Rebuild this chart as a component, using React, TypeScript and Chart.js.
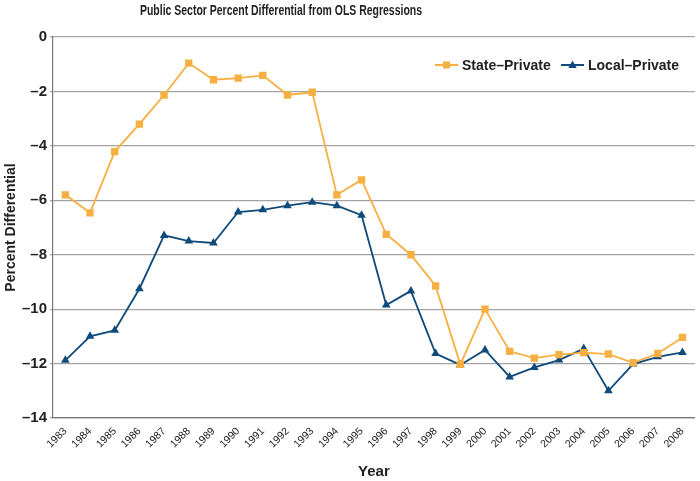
import React, { useEffect, useRef } from "react";
import { Chart, registerables } from "chart.js";

Chart.register(...registerables);

const TITLE = "Public Sector Percent Differential from OLS Regressions";
const years = [
  "1983", "1984", "1985", "1986", "1987", "1988", "1989", "1990", "1991", "1992", "1993", "1994", "1995",
  "1996", "1997", "1998", "1999", "2000", "2001", "2002", "2003", "2004", "2005", "2006", "2007", "2008",
];
const statePrivate = [
  -5.8, -6.46, -4.21, -3.2, -2.13, -0.96, -1.57, -1.51, -1.41, -2.13, -2.03, -5.8, -5.25,
  -7.25, -8.0, -9.15, -12.03, -10.0, -11.55, -11.8, -11.67, -11.6, -11.65, -11.97, -11.63, -11.04,
];
const localPrivate = [
  -11.88, -11.0, -10.78, -9.25, -7.29, -7.5, -7.57, -6.43, -6.35, -6.2, -6.07, -6.2, -6.55,
  -9.85, -9.33, -11.63, -12.05, -11.5, -12.49, -12.14, -11.87, -11.45, -13.0, -12.02, -11.75, -11.59,
];
const yTicks = [0, -2, -4, -6, -8, -10, -12, -14];

const ORANGE = "#F6AF41";
const BLUE = "#0F4A7B";
const NARROW = "'Liberation Sans Narrow', 'Liberation Sans', Arial, sans-serif";
const SANS = "'Liberation Sans', Arial, sans-serif";

const overlayPlugin = {
  id: "overlay",
  afterDraw(chart: any) {
    const ctx = chart.ctx;
    ctx.save();
    // title (horizontally condensed to match the reference's narrow face)
    ctx.fillStyle = "#222";
    ctx.font = `bold 14px ${NARROW}`;
    ctx.textAlign = "center";
    ctx.textBaseline = "middle";
    const w = ctx.measureText(TITLE).width;
    const sx = Math.min(1, 282 / w);
    ctx.save();
    ctx.translate(281, 11);
    ctx.scale(sx, 1);
    ctx.fillText(TITLE, 0, 0);
    ctx.restore();
    // legend
    const items = chart.data.datasets.map((d: any) => ({
      label: d.label,
      color: d.borderColor,
      style: d.pointStyle,
    }));
    const xs = [435, 561];
    const y = 65;
    ctx.font = `bold 14px ${SANS}`;
    ctx.textAlign = "left";
    items.forEach((it: any, i: number) => {
      const x0 = xs[i];
      ctx.strokeStyle = it.color;
      ctx.lineWidth = 2;
      ctx.beginPath();
      ctx.moveTo(x0, y);
      ctx.lineTo(x0 + 23, y);
      ctx.stroke();
      ctx.fillStyle = it.color;
      const cx = x0 + 11.5;
      if (it.style === "rect") {
        ctx.fillRect(cx - 3.5, y - 3.5, 7, 7);
      } else {
        ctx.beginPath();
        ctx.moveTo(cx, y - 4.5);
        ctx.lineTo(cx + 4.2, y + 3);
        ctx.lineTo(cx - 4.2, y + 3);
        ctx.closePath();
        ctx.fill();
      }
      ctx.fillStyle = "#222";
      ctx.fillText(it.label, x0 + 27, y + 1);
    });
    ctx.restore();
  },
};

export default function App() {
  const ref = useRef<HTMLCanvasElement | null>(null);
  useEffect(() => {
    document.body.style.margin = "0";
    const canvas = ref.current;
    if (!canvas) return;
    const chart = new Chart(canvas, {
      type: "line",
      data: {
        labels: years,
        datasets: [
          {
            label: "State\u2013Private",
            data: statePrivate,
            borderColor: ORANGE,
            backgroundColor: ORANGE,
            borderWidth: 1.8,
            pointStyle: "rect",
            pointRadius: 5.2,
            pointBorderWidth: 0,
            tension: 0,
          },
          {
            label: "Local\u2013Private",
            data: localPrivate,
            borderColor: BLUE,
            backgroundColor: BLUE,
            borderWidth: 1.8,
            pointStyle: "triangle",
            pointRadius: 5,
            pointBorderWidth: 0,
            tension: 0,
          },
        ],
      },
      options: {
        animation: false,
        responsive: false,
        layout: { padding: { top: 37, right: 2, left: 0, bottom: 0 } },
        plugins: {
          legend: { display: false },
          tooltip: { enabled: false },
          title: { display: false },
        },
        scales: {
          x: {
            offset: true,
            grid: { display: false, drawTicks: false },
            border: { display: true, color: "#777", width: 1.2 },
            ticks: {
              color: "#222",
              font: { family: NARROW, size: 10.5 },
              minRotation: 45,
              maxRotation: 45,
              padding: 7,
              autoSkip: false,
            },
            title: {
              display: true,
              text: "Year",
              color: "#222",
              font: { family: SANS, size: 15, weight: "bold" },
              padding: { top: 4, bottom: 0 },
            },
            afterFit(scale: any) {
              scale.height = 63;
            },
          },
          y: {
            min: -14,
            max: 0,
            afterBuildTicks(scale: any) {
              scale.ticks = yTicks.map((v) => ({ value: v }));
            },
            grid: { color: "#a4a4a4", lineWidth: 1.2, drawTicks: true, tickLength: 3 },
            border: { display: true, color: "#777", width: 1.2 },
            ticks: {
              color: "#222",
              font: { family: SANS, size: 15, weight: "bold" },
              padding: 3,
              callback: (v: any) => (Number(v) < 0 ? "\u2013" + Math.abs(Number(v)) : String(v)),
            },
            title: {
              display: true,
              text: "Percent Differential",
              color: "#222",
              font: { family: SANS, size: 14, weight: "bold" },
              padding: { top: 3, bottom: 2 },
            },
            afterFit(scale: any) {
              scale.width = 53;
            },
          },
        },
      },
      plugins: [overlayPlugin],
    });
    return () => chart.destroy();
  }, []);
  return (
    <div style={{ width: 700, height: 481 }}>
      <canvas ref={ref} width={700} height={481} />
    </div>
  );
}
